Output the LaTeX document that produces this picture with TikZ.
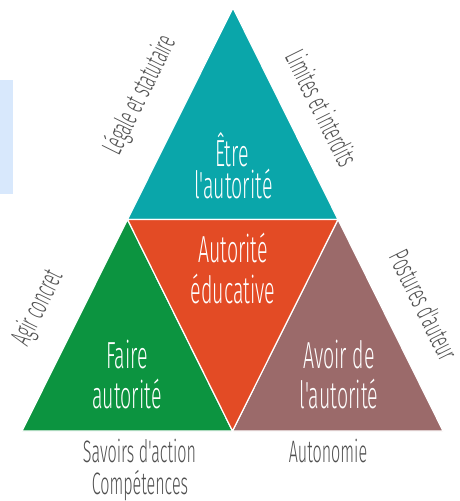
\documentclass[tikz,border=0pt]{standalone}
\usepackage{fontspec}
\setmainfont{Fira Sans Light}[FakeStretch=0.52, Ligatures=TeXOff]
\definecolor{tealc}{RGB}{10,166,170}
\definecolor{redc}{RGB}{227,75,37}
\definecolor{greenc}{RGB}{12,148,64}
\definecolor{brownc}{RGB}{155,106,106}
\definecolor{bluec}{RGB}{216,232,252}
\definecolor{labelc}{RGB}{80,80,80}
\tikzset{
  tri/.style={draw=white, line width=1.2pt, line join=miter},
  inner/.style={text=white, inner sep=0pt, anchor=base, font=\fontsize{37.7}{40}\selectfont},
  outer/.style={text=labelc, inner sep=0pt, anchor=base, font=\fontsize{31}{34}\selectfont},
  side/.style={text=labelc, inner sep=0pt, anchor=center, font=\fontsize{29}{32}\selectfont},
}
\begin{document}
\begin{tikzpicture}[x=1pt,y=-1pt]
\useasboundingbox (0,0) rectangle (459,501);
\fill[bluec] (0,80) rectangle (13,194);
\coordinate (A) at (233,8);
\coordinate (L) at (22,431);
\coordinate (R) at (443,431);
\coordinate (ML) at (127.5,219.5);
\coordinate (MR) at (338,219.5);
\coordinate (MB) at (232.5,431);
\filldraw[tri, fill=tealc] (A) -- (MR) -- (ML) -- cycle;
\filldraw[tri, fill=greenc] (ML) -- (MB) -- (L) -- cycle;
\filldraw[tri, fill=brownc] (MR) -- (R) -- (MB) -- cycle;
\filldraw[tri, fill=redc] (ML) -- (MR) -- (MB) -- cycle;
% inner texts
\node[inner] (etre) at (232,166) {Être};
\node[inner] (etre2) at (233.5,198) {l'autorité};
\node[inner] (aut) at (233,262) {Autorité};
\node[inner] (aut2) at (233,303) {éducative};
\node[inner] (faire) at (127,368) {Faire};
\node[inner] (faire2) at (127,408) {autorité};
\node[inner] (avoir) at (339,368) {Avoir de};
\node[inner] (avoir2) at (339,408) {l'autorité};
% outer texts
\node[outer] (sav) at (139.5,462) {Savoirs d'action};
\node[outer] (comp) at (140,494) {Compétences};
\node[outer] (auto) at (328,462) {Autonomie};
\node[side, rotate=63.6] (leg) at (140,95) {Légale et statutaire};
\node[side, rotate=-63.6] (lim) at (322,108) {Limites et interdits};
\node[side, rotate=63.6] (agir) at (38,308) {Agir concret};
\node[side, rotate=-63.6] (post) at (424,305) {Postures d'auteur};
\end{tikzpicture}
\end{document}
